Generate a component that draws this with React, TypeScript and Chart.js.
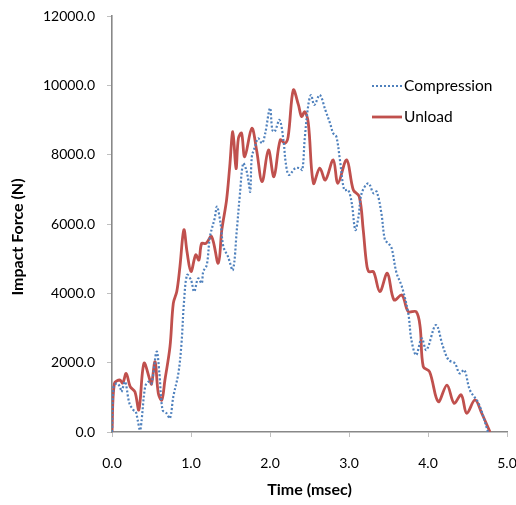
import React, { useEffect, useRef } from "react";
import { Chart, registerables } from "chart.js";

Chart.register(...registerables);

// ---- Data ----
const compressionTime = [
  0, 0.02, 0.06, 0.1, 0.12, 0.165, 0.22, 0.27, 0.3, 0.325, 0.355, 0.375, 0.42, 0.46, 0.5,
  0.565, 0.6, 0.64, 0.69, 0.734, 0.776, 0.84, 0.88, 0.91, 0.95, 1.0, 1.04, 1.09, 1.135,
  1.155, 1.2, 1.24, 1.3, 1.33, 1.375, 1.41, 1.47, 1.53, 1.58, 1.62, 1.66, 1.7, 1.725, 1.75,
  1.77, 1.81, 1.85, 1.9, 1.94, 2.0, 2.03, 2.06, 2.12, 2.17, 2.2, 2.24, 2.32, 2.38, 2.41,
  2.44, 2.485, 2.52, 2.56, 2.63, 2.7, 2.76, 2.8, 2.84, 2.885, 2.94, 2.99, 3.035, 3.08, 3.12,
  3.16, 3.245, 3.31, 3.35, 3.41, 3.455, 3.5, 3.54, 3.6, 3.67, 3.75, 3.79, 3.85, 3.92, 3.98,
  4.1, 4.19, 4.26, 4.34, 4.4, 4.46, 4.53, 4.64, 4.76,
];
const compressionForce = [
  0, 1300, 1400, 1310, 1160, 1450, 830, 635, 590, 346, 50, 346, 1310, 1450, 1400,
  2320, 1690, 635, 540, 395, 1020, 1690, 2560, 3710, 4530, 4385, 4050, 4430, 4290,
  4625, 4820, 5635, 6165, 6500, 6000, 5345, 5050, 4675, 5830, 6885, 7750, 7560, 7270, 6935,
  7940, 8230, 8470, 8330, 8620, 9340, 8710, 8665, 9000, 8425, 7750, 7415, 7610, 7610, 7560,
  8470, 9435, 9720, 9435, 9720, 9290, 8905, 8620, 8520, 7850, 6980, 6980, 6600, 5830, 6210,
  6885, 7175, 6885, 6935, 6310, 5540, 5440, 5300, 4600, 4190, 3425, 2655, 2220, 2700, 2365,
  3085, 2460, 2080, 1980, 1690, 1790, 1210, 830, 0,
];

const unloadTime = [
  0, 0.03, 0.1, 0.135, 0.18, 0.23, 0.29, 0.34, 0.405, 0.48, 0.5, 0.545, 0.586, 0.63, 0.67,
  0.734, 0.776, 0.82, 0.86, 0.91, 0.95, 1.0, 1.06, 1.1, 1.135, 1.19, 1.26, 1.345, 1.39,
  1.45, 1.49, 1.53, 1.57, 1.6, 1.64, 1.68, 1.77, 1.83, 1.9, 1.98, 2.05, 2.13, 2.19, 2.23,
  2.295, 2.36, 2.4, 2.44, 2.485, 2.55, 2.63, 2.7, 2.8, 2.86, 2.97, 3.055, 3.13, 3.18, 3.22,
  3.25, 3.31, 3.39, 3.485, 3.57, 3.67, 3.75, 3.85, 3.9, 3.94, 4.02, 4.13, 4.24, 4.33, 4.42,
  4.49, 4.595, 4.68, 4.785,
];
const unloadForce = [
  0, 1400, 1500, 1410, 1690, 1310, 1160, 640, 1980, 1500, 1380, 2030, 1120, 920, 1500,
  2460, 3710, 4050, 4770, 5830, 5190, 4630, 5110, 4960, 5440, 5440, 5640, 4870, 5830,
  6690, 7650, 8665, 7600, 8470, 8620, 7940, 8760, 8135, 7220, 8135, 7365, 8425, 8330, 8520,
  9867, 9435, 9100, 9240, 8905, 7175, 7610, 7270, 7850, 7175, 7850, 6980, 6790, 5830, 4900,
  4625, 4625, 4050, 4580, 3810, 3950, 3470, 3470, 3040, 1885, 1740, 875, 1355, 830, 1070,
  540, 925, 540, 0,
];

const seriesNames = ["Compression", "Unload"];
const xTicks = [0, 1, 2, 3, 4, 5];
const yTicks = [0, 2000, 4000, 6000, 8000, 10000, 12000];
const xTitle = "Time (msec)";
const yTitle = "Impact Force (N)";

const BLUE = "#4F81BD";
const RED = "#C0504D";
const FONT = "Lato, 'Open Sans', sans-serif";

const toPoints = (xs: number[], ys: number[]) => xs.map((x, i) => ({ x, y: ys[i] }));

const overlayPlugin = {
  id: "overlay",
  afterDraw(chart: any) {
    const { ctx, chartArea } = chart;
    ctx.save();
    // Axis titles
    ctx.fillStyle = "#000";
    ctx.font = `bold 16px ${FONT}`;
    ctx.textAlign = "center";
    ctx.textBaseline = "middle";
    ctx.fillText(xTitle, (chartArea.left + chartArea.right) / 2, 490);
    ctx.translate(18, (chartArea.top + chartArea.bottom) / 2 + 13);
    ctx.rotate(-Math.PI / 2);
    ctx.fillText(yTitle, 0, 0);
    ctx.restore();

    // Legend
    ctx.save();
    const items = [
      { label: seriesNames[0], color: BLUE, dash: [2, 2], y: 86 },
      { label: seriesNames[1], color: RED, dash: [], y: 117 },
    ];
    ctx.font = `15.5px ${FONT}`;
    ctx.textAlign = "left";
    ctx.textBaseline = "middle";
    for (const it of items) {
      ctx.beginPath();
      ctx.setLineDash(it.dash);
      ctx.strokeStyle = it.color;
      ctx.lineWidth = it.dash.length ? 2 : 2.8;
      ctx.moveTo(372, it.y);
      ctx.lineTo(402, it.y);
      ctx.stroke();
      ctx.setLineDash([]);
      ctx.fillStyle = "#000";
      ctx.fillText(it.label, 404, it.y);
    }
    ctx.restore();
  },
};

export default function App() {
  const canvasRef = useRef<HTMLCanvasElement | null>(null);

  useEffect(() => {
    document.body.style.margin = "0";
    const canvas = canvasRef.current;
    if (!canvas) return;
    const chart = new Chart(canvas, {
      type: "line",
      data: {
        datasets: [
          {
            label: seriesNames[0],
            data: toPoints(compressionTime, compressionForce),
            borderColor: BLUE,
            backgroundColor: BLUE,
            borderWidth: 2.2,
            borderDash: [2, 2],
            pointRadius: 0,
            tension: 0.35,
            fill: false,
          },
          {
            label: seriesNames[1],
            data: toPoints(unloadTime, unloadForce),
            borderColor: RED,
            backgroundColor: RED,
            borderWidth: 2.8,
            pointRadius: 0,
            tension: 0.35,
            fill: false,
          },
        ],
      },
      options: {
        animation: false,
        responsive: true,
        maintainAspectRatio: false,
        layout: { padding: { top: 16, right: 9, left: 0, bottom: 0 } },
        plugins: {
          legend: { display: false },
          tooltip: { enabled: false },
        },
        scales: {
          x: {
            type: "linear",
            min: xTicks[0],
            max: xTicks[xTicks.length - 1],
            afterBuildTicks: (scale: any) => {
              scale.ticks = xTicks.map((v) => ({ value: v }));
            },
            afterFit: (scale: any) => {
              scale.height = 73;
              scale.paddingRight = 0;
              scale.paddingLeft = 0;
            },
            grid: {
              drawOnChartArea: false,
              drawTicks: true,
              tickLength: 5,
              tickColor: "#c0c0c0",
              tickWidth: 1,
            },
            border: { display: true, color: "#888888", width: 1.6 },
            ticks: {
              padding: 18,
              color: "#000",
              font: { family: FONT, size: 14 },
              maxRotation: 0,
              callback: (v: any) => Number(v).toFixed(1),
            },
          },
          y: {
            type: "linear",
            min: yTicks[0],
            max: yTicks[yTicks.length - 1],
            afterBuildTicks: (scale: any) => {
              scale.ticks = yTicks.map((v) => ({ value: v }));
            },
            afterFit: (scale: any) => {
              scale.width = 112;
              scale.paddingTop = 0;
              scale.paddingBottom = 0;
            },
            grid: {
              drawOnChartArea: false,
              drawTicks: true,
              tickLength: 5,
              tickColor: "#c0c0c0",
              tickWidth: 1,
            },
            border: { display: true, color: "#888888", width: 1.6 },
            ticks: {
              padding: 12,
              color: "#000",
              font: { family: FONT, size: 14 },
              callback: (v: any) => Number(v).toFixed(1),
            },
          },
        },
      },
      plugins: [overlayPlugin],
    });
    return () => chart.destroy();
  }, []);

  return (
    <div style={{ position: "relative", width: 516, height: 505, background: "#fff" }}>
      <canvas ref={canvasRef} />
    </div>
  );
}
